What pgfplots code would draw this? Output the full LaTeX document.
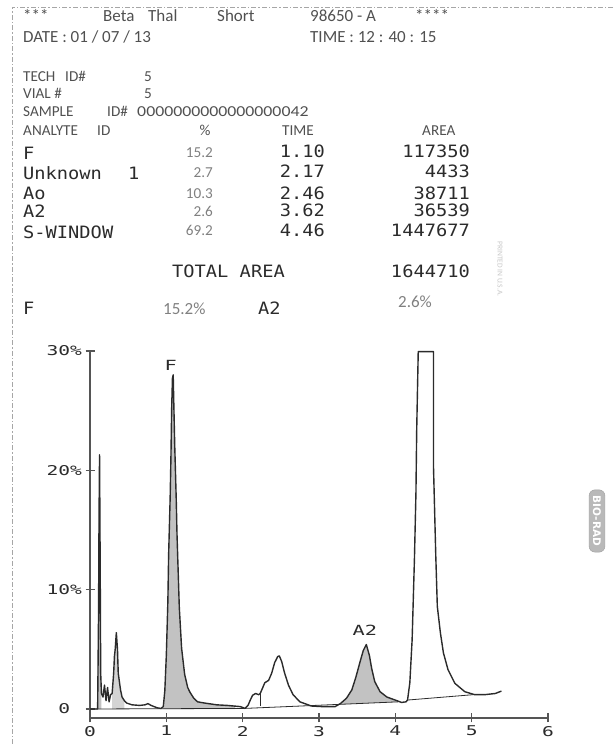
\documentclass[border=0pt]{standalone}
\usepackage{fontspec}
\setmainfont{Carlito}
\newfontfamily\prn[FakeStretch=1.45]{DejaVu Sans Mono}
\newfontfamily\tbl[FakeStretch=1.1]{DejaVu Sans Mono}
\newfontfamily\djs{DejaVu Sans}
\usepackage{pgfplots}
\pgfplotsset{compat=1.18}
\definecolor{ink}{HTML}{2B2B2B}
\definecolor{hdr}{HTML}{505050}
\definecolor{lite}{HTML}{808080}
\definecolor{shade}{HTML}{C2C2C2}
\newcommand{\hd}{\fontsize{17}{18}\selectfont}
\newcommand{\hs}{\fontsize{15.2}{16}\selectfont}
\newcommand{\tb}{\tbl\fontsize{17}{18}\selectfont}
\begin{document}
\begin{tikzpicture}[x=1pt,y=1pt]
\path[use as bounding box] (0,0) rectangle (613,746);
\draw[gray!70, line width=0.8pt, dash pattern=on 5pt off 2pt on 1.5pt off 2pt] (613,739) -- (12,739) -- (12,0);

\begin{axis}[
 at={(90pt,28pt)}, anchor=south west,
 scale only axis, width=458pt, height=367pt,
 xmin=0, xmax=6, ymin=-0.754, ymax=30,
 axis x line=bottom, axis y line=left,
 axis line style={-, line width=1.1pt, draw=ink!80},
 xtick={0,1,2,3,4,5,6}, ytick={0,10,20,30},
 xticklabels={0,1,2,3,4,5,6},
 yticklabels={0\hphantom{\%},10\%,20\%,30\%},
 tick align=center, major tick length=9pt,
 tick style={draw=ink!80, line width=1.1pt},
 ticklabel style={font=\prn\fontsize{13.5}{14}\selectfont, text=ink},
 /pgf/number format/assume math mode=true,
 clip=false,
]
% shaded areas
\addplot[fill=shade, draw=none] coordinates {(0.10,0)(0.112,8)(0.118,15.7)(0.125,21.3)(0.13,16)(0.135,10)(0.14,3)(0.15,1.3)(0.15,0)};
\addplot[fill=shade!70, draw=none] coordinates {(0.29,0)(0.29,1.3)(0.31,3.0)(0.32,4.4)(0.33,5.0)(0.345,6.4)(0.36,5.0)(0.37,3.0)(0.40,1.6)(0.42,1.0)(0.45,0.7)(0.45,0)};
\addplot[fill=shade, draw=none] coordinates {(0.96,0)(0.96,0.2)(0.98,1.5)(1.00,4.5)(1.02,9)(1.03,12.9)(1.05,17.7)(1.06,21)(1.07,25.2)(1.08,27.7)(1.09,28.0)(1.10,25)(1.11,22.1)(1.13,17.5)(1.14,14.6)(1.17,8.5)(1.20,5.1)(1.24,2.9)(1.28,1.8)(1.31,1.4)(1.36,0.9)(1.41,0.6)(1.5,0.5)(1.66,0.35)(1.80,0.3)(1.90,0.25)(1.90,0)};
\addplot[fill=shade, draw=none] coordinates {(3.30,0.55)(3.36,0.9)(3.43,1.6)(3.48,2.6)(3.54,4.0)(3.58,4.9)(3.62,5.4)(3.66,4.5)(3.69,3.4)(3.73,2.3)(3.80,1.45)(3.89,1.0)(4.02,0.7)(4.04,0.6)(3.30,0.40)};
% baselines
\addplot[ink, line width=0.8pt] coordinates {(0,0)(2.03,0.05)(4.04,0.6)};
\addplot[ink, line width=0.8pt] coordinates {(2.23,0.22)(2.23,1.3)};
\addplot[ink, line width=0.8pt] coordinates {(4.16,0.75)(5.02,1.2)};
% trace
\addplot[ink, line width=1.4pt, line join=round] coordinates {
(0,0)(0.10,0)(0.112,8)(0.118,15.7)(0.125,21.3)(0.13,16)(0.135,10)(0.14,3)(0.15,1.3)
(0.17,1.0)(0.19,2.0)(0.21,0.7)(0.23,1.8)(0.25,0.6)(0.27,1.2)(0.29,1.3)(0.31,3.0)(0.32,4.4)
(0.33,5.0)(0.345,6.4)(0.36,5.0)(0.37,3.0)(0.40,1.6)(0.42,1.0)(0.45,0.7)(0.48,0.5)(0.55,0.35)
(0.65,0.3)(0.72,0.35)(0.76,0.45)(0.80,0.3)(0.88,0.1)(0.93,0.05)(0.96,0.2)(0.98,1.5)(1.00,4.5)
(1.02,9)(1.03,12.9)(1.05,17.7)(1.06,21)(1.07,25.2)(1.08,27.7)(1.09,28.0)(1.10,25)(1.11,22.1)
(1.13,17.5)(1.14,14.6)(1.17,8.5)(1.20,5.1)(1.24,2.9)(1.28,1.8)(1.31,1.4)(1.36,0.9)(1.41,0.6)
(1.5,0.5)(1.66,0.35)(1.80,0.3)(1.97,0.2)(2.03,0.05)(2.07,0.3)(2.10,0.75)(2.13,1.15)(2.17,1.3)
(2.21,1.2)(2.23,1.3)(2.25,1.6)(2.29,2.2)(2.34,2.4)(2.38,3.0)(2.42,3.9)(2.46,4.4)(2.48,4.45)
(2.51,4.0)(2.55,3.0)(2.60,2.0)(2.66,1.2)(2.75,0.6)(2.90,0.25)(3.04,0.2)(3.21,0.2)(3.28,0.45)
(3.36,0.9)(3.43,1.6)(3.48,2.6)(3.54,4.0)(3.58,4.9)(3.62,5.4)(3.66,4.5)(3.69,3.4)(3.73,2.3)
(3.80,1.45)(3.89,1.0)(4.02,0.7)(4.08,0.55)(4.14,0.6)(4.16,0.75)(4.19,2.2)(4.22,5.8)(4.25,12.5)
(4.27,18.1)(4.28,23.4)(4.30,29.95)(4.50,29.95)(4.50,20.3)(4.53,12.8)(4.55,8.6)(4.59,6.4)
(4.63,4.7)(4.69,3.3)(4.78,2.15)(4.91,1.45)(5.04,1.2)(5.17,1.2)(5.31,1.3)(5.39,1.5)};
\node[font=\prn\fontsize{14}{14}\selectfont, text=ink] at (axis cs:1.057,28.8) {F};
\node[font=\prn\fontsize{14}{14}\selectfont, text=ink] at (axis cs:3.60,6.6) {A2};
\end{axis}

% header
\begin{scope}[every node/.style={anchor=base west, inner sep=0pt, text=hdr, font=\hd}]
\node at (23,724) {***};
\node at (103,724) {Beta};
\node at (148,724) {Thal};
\node at (217,724) {Short};
\node at (310,724) {98650 - A};
\node at (415,724) {****};
\node at (23,703) {DATE : 01 / 07 / 13};
\node at (310,703) {TIME : 12 : 40 : 15};
\end{scope}
\begin{scope}[every node/.style={anchor=base west, inner sep=0pt, text=hdr, font=\hs}]
\node at (23,664) {TECH}; \node at (65,664) {ID\#}; \node at (144,664) {5};
\node at (23,647) {VIAL \#}; \node at (144,647) {5};
\node at (23,629) {SAMPLE}; \node at (107,629) {ID\#};
\node[xscale=1.17] at (137,629) {0000000000000000042};
\node at (23,610) {ANALYTE}; \node at (97,610) {ID};
\node[anchor=base] at (205,610) {\%};
\node at (282,610) {TIME};
\node at (422,610) {AREA};
\end{scope}
% table
\begin{scope}[every node/.style={anchor=base west, inner sep=0pt, text=ink, font=\tb}]
\node at (23,586) {F};
\node at (23,566) {Unknown}; \node at (128,566) {1};
\node at (23,546) {Ao};
\node at (23,528) {A2};
\node at (23,507) {S-WINDOW};
\node[anchor=base east] at (325,588) {1.10};
\node[anchor=base east] at (325,568) {2.17};
\node[anchor=base east] at (325,546) {2.46};
\node[anchor=base east] at (325,529) {3.62};
\node[anchor=base east] at (325,509) {4.46};
\node[anchor=base east] at (470,588) {117350};
\node[anchor=base east] at (470,568) {4433};
\node[anchor=base east] at (470,546) {38711};
\node[anchor=base east] at (470,529) {36539};
\node[anchor=base east] at (470,509) {1447677};
\node at (172,468) {TOTAL AREA};
\node[anchor=base east] at (470,468) {1644710};
\node at (23,431) {F};
\node at (258,431) {A2};
\end{scope}
\begin{scope}[every node/.style={anchor=base east, inner sep=0pt, text=lite, font=\hs}]
\node at (213,588) {15.2};
\node at (213,568) {2.7};
\node at (213,547) {10.3};
\node at (213,529) {2.6};
\node at (213,510) {69.2};
\end{scope}
\node[anchor=base west, inner sep=0pt, text=lite, font=\fontsize{17}{18}\selectfont] at (163,431) {15.2\%};
\node[anchor=base west, inner sep=0pt, text=lite, font=\fontsize{17}{18}\selectfont] at (398,438) {2.6\%};
\node[rotate=-90, text=gray!45, font=\fontsize{7.5}{8}\selectfont] at (500,477) {PRINTED IN U.S.A.};
\node[rotate=-90, fill=gray!55, draw=gray!75, rounded corners=6pt, text=white, font=\djs\bfseries\fontsize{10.5}{11}\selectfont, inner xsep=6pt, inner ysep=4pt] at (597,225) {BIO-RAD};
\end{tikzpicture}
\end{document}
